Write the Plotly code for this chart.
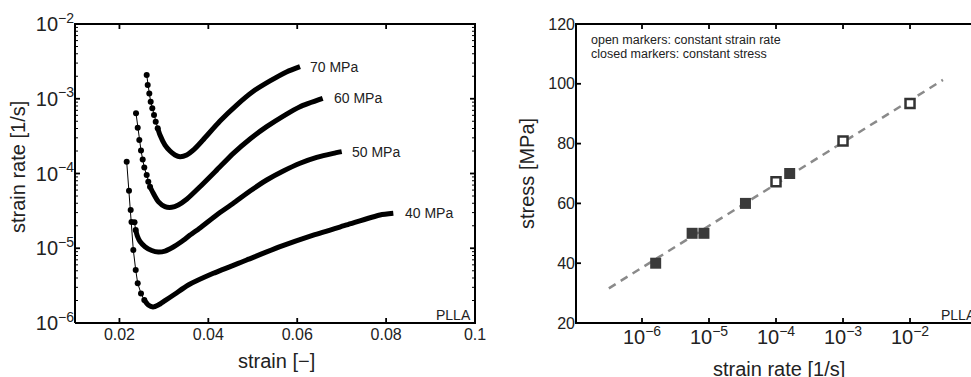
import math
import plotly.graph_objects as go

# ---------------- data: left panel (strain vs strain rate) ----------------
strain_70 = [0.02613, 0.02636, 0.02672, 0.02703, 0.02739, 0.02778, 0.02816, 0.02861, 0.02913, 0.03025,
             0.03138, 0.0325, 0.03363, 0.03513, 0.0368, 0.0388, 0.04263, 0.04638, 0.05005, 0.05388,
             0.0577, 0.06063]
rate_70 = [2.08e-3, 1.53e-3, 1.18e-3, 9.14e-4, 7.45e-4, 6.07e-4, 4.93e-4, 4.03e-4, 3.27e-4, 2.40e-4,
           2.00e-4, 1.77e-4, 1.68e-4, 1.77e-4, 2.10e-4, 2.81e-4, 5.04e-4, 8.24e-4, 1.25e-3, 1.73e-3,
           2.30e-3, 2.69e-3]

strain_60 = [0.02373, 0.02411, 0.02447, 0.02485, 0.02523, 0.02559, 0.02613, 0.02649, 0.02688, 0.02762,
             0.02874, 0.03025, 0.03176, 0.03324, 0.03513, 0.03813, 0.04188, 0.04562, 0.04938, 0.05313,
             0.05687, 0.06063, 0.06573]
rate_60 = [6.38e-4, 4.10e-4, 2.81e-4, 2.03e-4, 1.54e-4, 1.20e-4, 9.55e-5, 7.76e-5, 6.65e-5, 5.43e-5,
           4.20e-5, 3.60e-5, 3.53e-5, 3.79e-5, 4.52e-5, 6.65e-5, 1.11e-4, 1.86e-4, 2.90e-4, 4.23e-4,
           5.87e-4, 7.83e-4, 1.01e-3]

strain_50 = [0.02339, 0.02366, 0.02406, 0.02463, 0.02575, 0.02726, 0.02874, 0.03025, 0.03212, 0.03401,
             0.03588, 0.03813, 0.04188, 0.04562, 0.04938, 0.05313, 0.05687, 0.06063, 0.06438, 0.06812,
             0.07001]
rate_50 = [2.22e-5, 1.75e-5, 1.44e-5, 1.23e-5, 1.05e-5, 9.33e-6, 8.91e-6, 9.18e-6, 1.04e-5, 1.23e-5,
           1.50e-5, 1.87e-5, 2.79e-5, 3.99e-5, 5.83e-5, 8.18e-5, 1.08e-4, 1.37e-4, 1.64e-4, 1.86e-4,
           1.96e-4]

strain_40 = [0.02163, 0.02215, 0.02253, 0.02271, 0.02312, 0.02366, 0.02411, 0.02485, 0.02559, 0.02649,
             0.02755, 0.02874, 0.03025, 0.0325, 0.03549, 0.04112, 0.04863, 0.05613, 0.06362, 0.07113,
             0.07863, 0.08162]
rate_40 = [1.44e-4, 5.89e-5, 3.25e-5, 2.24e-5, 9.48e-6, 5.12e-6, 3.40e-6, 2.49e-6, 2.03e-6, 1.74e-6,
           1.64e-6, 1.74e-6, 1.99e-6, 2.44e-6, 3.22e-6, 4.62e-6, 6.97e-6, 1.05e-5, 1.50e-5, 2.05e-5,
           2.79e-5, 2.94e-5]

curve_labels = ["70 MPa", "60 MPa", "50 MPa", "40 MPa"]
# index where the densely sampled (thick) part of each curve begins
dense_start = [7, 8, 1, 8]

# ---------------- data: right panel (strain rate vs stress) ----------------
closed_rate = [1.6e-6, 5.6e-6, 8.4e-6, 3.5e-5, 1.6e-4]
closed_stress = [40, 50, 50, 60, 70]
open_rate = [1e-4, 1e-3, 1e-2]
open_stress = [67.2, 80.9, 93.4]
fit_rate = [3.2e-7, 3.1e-2]
fit_stress = [31.6, 101.3]

# ---------------- axes ----------------
x_range_left = [0.01, 0.1]
y_logrange_left = [-6, -2]
x_ticks_left = [0.02, 0.04, 0.06, 0.08, 0.1]
x_ticktext_left = ["0.02", "0.04", "0.06", "0.08", "0.1"]
x_logrange_right = [-6.985, -1.09]
x_ticks_right = [1e-6, 1e-5, 1e-4, 1e-3, 1e-2]
y_range_right = [20, 120]
y_ticks_right = [20, 40, 60, 80, 100, 120]

FONT = "Liberation Sans, Arial, Helvetica, sans-serif"
INK = "#222222"
W, H = 971, 377
LEFT_PX = (75, 475)      # left panel plot area, x pixels
RIGHT_PX = (576, 971)    # right panel plot area, x pixels
TOP_PX, BOT_PX = 24, 323
TICK, MINOR = 5, 3

fig = go.Figure()

curves = [(strain_70, rate_70), (strain_60, rate_60), (strain_50, rate_50), (strain_40, rate_40)]
for (sx, ry), k in zip(curves, dense_start):
    fig.add_trace(go.Scatter(x=sx[:k + 1], y=ry[:k + 1], mode="lines+markers",
                             line=dict(color="black", width=1),
                             marker=dict(color="black", size=6),
                             xaxis="x", yaxis="y", showlegend=False, hoverinfo="skip"))
    fig.add_trace(go.Scatter(x=sx[k:], y=ry[k:], mode="lines",
                             line=dict(color="black", width=5, shape="spline", smoothing=0.6),
                             xaxis="x", yaxis="y", showlegend=False, hoverinfo="skip"))

fig.add_trace(go.Scatter(x=fit_rate, y=fit_stress, mode="lines",
                         line=dict(color="#8a8a8a", width=2.5, dash="8px,6px"),
                         xaxis="x2", yaxis="y2", showlegend=False, hoverinfo="skip"))
fig.add_trace(go.Scatter(x=closed_rate, y=closed_stress, mode="markers",
                         marker=dict(symbol="square", size=11, color="#3a3a3a", line=dict(width=0)),
                         xaxis="x2", yaxis="y2", showlegend=False, hoverinfo="skip"))
fig.add_trace(go.Scatter(x=open_rate, y=open_stress, mode="markers",
                         marker=dict(symbol="square", size=9, color="white",
                                     line=dict(width=2.5, color="#333333")),
                         xaxis="x2", yaxis="y2", showlegend=False, hoverinfo="skip"))


# ---------------- frames and inward ticks on a full-page overlay (pixel units) ----------------
def lx(v):   # left panel x -> pixel
    return LEFT_PX[0] + (v - x_range_left[0]) / (x_range_left[1] - x_range_left[0]) * (LEFT_PX[1] - LEFT_PX[0])


def ly(v):   # left panel y (log) -> pixel
    return BOT_PX - (math.log10(v) - y_logrange_left[0]) / (y_logrange_left[1] - y_logrange_left[0]) * (BOT_PX - TOP_PX)


def rx(v):   # right panel x (log) -> pixel
    return RIGHT_PX[0] + (math.log10(v) - x_logrange_right[0]) / (x_logrange_right[1] - x_logrange_right[0]) * (RIGHT_PX[1] - RIGHT_PX[0])


def ry_(v):  # right panel y -> pixel
    return BOT_PX - (v - y_range_right[0]) / (y_range_right[1] - y_range_right[0]) * (BOT_PX - TOP_PX)


L0, L1 = LEFT_PX
R0, R1 = RIGHT_PX
frame_x = [L0, L1, L1, L0, L0, None, R1, R0, R0, R1]
frame_y = [BOT_PX, BOT_PX, TOP_PX, TOP_PX, BOT_PX, None, TOP_PX, TOP_PX, BOT_PX, BOT_PX]

tick_x, tick_y = [], []
for v in x_ticks_left:
    p = lx(v)
    tick_x += [p, p, None, p, p, None]
    tick_y += [BOT_PX, BOT_PX - TICK, None, TOP_PX, TOP_PX + TICK, None]
for e in range(y_logrange_left[0], y_logrange_left[1] + 1):
    p = ly(10 ** e)
    tick_x += [L0, L0 + TICK, None, L1 - TICK, L1, None]
    tick_y += [p, p, None, p, p, None]
for v in x_ticks_right:
    p = rx(v)
    tick_x += [p, p, None, p, p, None]
    tick_y += [BOT_PX, BOT_PX - TICK, None, TOP_PX, TOP_PX + TICK, None]
for v in y_ticks_right:
    p = ry_(v)
    tick_x += [R0, R0 + TICK, None]
    tick_y += [p, p, None]

minor_x, minor_y = [], []
for e in range(y_logrange_left[0], y_logrange_left[1]):
    for m in range(2, 10):
        p = ly(m * 10 ** e)
        minor_x += [L0, L0 + MINOR, None, L1 - MINOR, L1, None]
        minor_y += [p, p, None, p, p, None]

fig.add_trace(go.Scatter(x=frame_x, y=frame_y, mode="lines", line=dict(color="black", width=2),
                         xaxis="x3", yaxis="y3", showlegend=False, hoverinfo="skip"))
fig.add_trace(go.Scatter(x=tick_x, y=tick_y, mode="lines", line=dict(color="black", width=1.8),
                         xaxis="x3", yaxis="y3", showlegend=False, hoverinfo="skip"))
fig.add_trace(go.Scatter(x=minor_x, y=minor_y, mode="lines", line=dict(color="black", width=1),
                         xaxis="x3", yaxis="y3", showlegend=False, hoverinfo="skip"))

ax_common = dict(showline=False, ticks="", showgrid=False, zeroline=False, automargin=False,
                 tickfont=dict(family=FONT, size=16, color=INK))
ydom = [(H - BOT_PX) / H, (H - TOP_PX) / H]

fig.update_layout(
    width=W, height=H,
    margin=dict(l=0, r=0, t=0, b=0),
    paper_bgcolor="white", plot_bgcolor="rgba(0,0,0,0)",
    xaxis=dict(domain=[LEFT_PX[0] / W, LEFT_PX[1] / W], range=x_range_left, tickvals=x_ticks_left,
               ticktext=x_ticktext_left, anchor="y", **ax_common),
    yaxis=dict(domain=ydom, type="log", range=y_logrange_left, dtick=1,
               exponentformat="power", anchor="x", **ax_common),
    xaxis2=dict(domain=[RIGHT_PX[0] / W, RIGHT_PX[1] / W], type="log", range=x_logrange_right,
                dtick=1, exponentformat="power", anchor="y2", **ax_common),
    yaxis2=dict(domain=ydom, range=y_range_right, tickvals=y_ticks_right, anchor="x2", **ax_common),
    xaxis3=dict(domain=[0, 1], range=[0, W], visible=False, anchor="y3", fixedrange=True),
    yaxis3=dict(domain=[0, 1], range=[H, 0], visible=False, anchor="x3", fixedrange=True),
)

for (sx, ry), lab, shift in zip(curves, curve_labels, [8, 9, 8, 10]):
    fig.add_annotation(x=sx[-1], y=math.log10(ry[-1]), xref="x", yref="y", text=lab,
                       showarrow=False, xanchor="left", yanchor="middle", xshift=shift,
                       font=dict(family=FONT, size=14, color=INK))


def pa(text, px, py, size, angle=0, xanchor="center", yanchor="middle"):
    fig.add_annotation(x=px / W, y=1 - py / H, xref="paper", yref="paper", text=text,
                       showarrow=False, xanchor=xanchor, yanchor=yanchor, textangle=angle,
                       font=dict(family=FONT, size=size, color=INK))


pa("strain [\u2212]", 276, 361, 20)
pa("strain rate [1/s]", 18, 167, 20, angle=-90)
pa("strain rate [1/s]", 779, 369, 20)
pa("stress [MPa]", 527, 174, 20, angle=-90)
pa("PLLA", 473, 315, 14, xanchor="right")
pa("PLLA", 939, 315, 14, xanchor="left")
pa("open markers: constant strain rate", 589, 40, 12.5, xanchor="left")
pa("closed markers: constant stress", 589, 54, 12.5, xanchor="left")

fig.write_html("out.html")
